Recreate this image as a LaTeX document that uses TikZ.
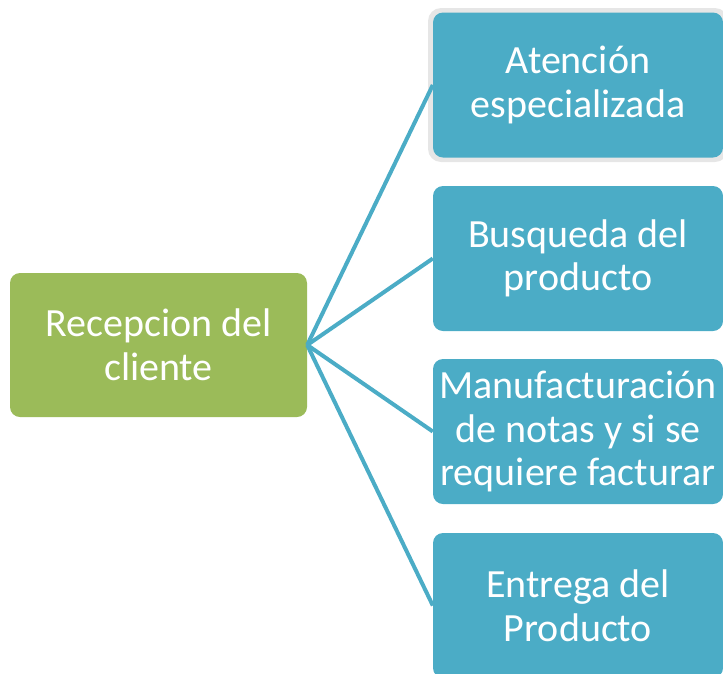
\documentclass[tikz,border=0pt]{standalone}
\usepackage{fontspec}
\setmainfont{Carlito}
\definecolor{accgreen}{HTML}{9BBB59}
\definecolor{accblue}{HTML}{4BACC6}
\definecolor{ringgray}{HTML}{E6E6E6}
\begin{document}
\begin{tikzpicture}[x=1pt,y=-1pt,
  boxtext/.style={font=\fontsize{40}{43.5}\selectfont, text=white, align=center},
  greenbox/.style={boxtext, fill=accgreen, rounded corners=10pt, minimum width=297pt, minimum height=144pt, inner sep=0pt},
  bluebox/.style={boxtext, fill=accblue, rounded corners=10pt, minimum width=290pt, minimum height=145pt, inner sep=0pt},
  link/.style={draw=accblue, line width=4pt}]
\useasboundingbox (0,0) rectangle (723,673);
\clip (0,0) rectangle (723,673);
\fill[ringgray, rounded corners=13pt] (428,8) rectangle (728,162);
\node[greenbox] (root) at (158.5,345) {Recepcion del\\cliente};
\node[bluebox] (b1) at (578,85) {Atención\\especializada};
\node[bluebox] (b2) at (578,258.5) {Busqueda del\\producto};
\node[bluebox] (b3) at (578,431.5) {Manufacturación\\de notas y si se\\requiere facturar};
\node[bluebox] (b4) at (578,605.5) {Entrega del\\Producto};
\foreach \b in {b1,b2,b3,b4}
  \draw[link] (root.east) -- (\b.west);
\end{tikzpicture}
\end{document}
